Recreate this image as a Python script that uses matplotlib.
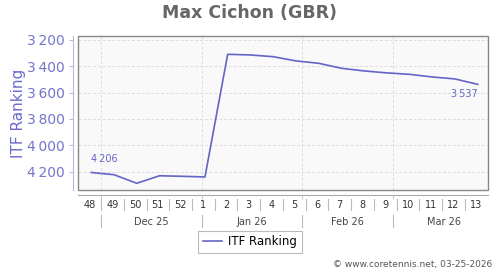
import matplotlib
matplotlib.use('Agg')
import matplotlib.pyplot as plt
import matplotlib.dates as mdates
from matplotlib.patches import Rectangle
from matplotlib.transforms import blended_transform_factory
import datetime as dt

# ---- data ----
weeks = [48, 49, 50, 51, 52, 1, 2, 3, 4, 5, 6, 7, 8, 9, 10, 11, 12, 13]
week_years = [2025] * 5 + [2026] * 13
ranking = [4206, 4223, 4288, 4231, 4235, 4240, 3309, 3314, 3327, 3359,
           3377, 3415, 3435, 3450, 3461, 3481, 3496, 3537]
month_labels = ['Dec 25', 'Jan 26', 'Feb 26', 'Mar 26']
month_starts = [(2025, 12), (2026, 1), (2026, 2), (2026, 3)]
y_ticks = [3200, 3400, 3600, 3800, 4000, 4200]
series_name = 'ITF Ranking'
title = 'Max Cichon (GBR)'
credit = '\u00a9 www.coretennis.net, 03-25-2026'

BLUE = '#6464c8'
TICKBLUE = '#7474cc'

def fmt(v):
    s = f'{v:,}'
    return s.replace(',', '\u2009')

mondays = [mdates.date2num(dt.date.fromisocalendar(y, w, 1)) for y, w in zip(week_years, weeks)]
xs = [m + 4 for m in mondays]
label_x = [m + 3.5 for m in mondays]
x_left = mondays[0]
x_right = mondays[-1] + 7
mstarts = [mdates.date2num(dt.date(y, m, 1)) for y, m in month_starts]
mends = mstarts[1:] + [mdates.date2num(dt.date(2026, 4, 1))]

fig = plt.figure(figsize=(5, 2.7), dpi=100)
ax = fig.add_axes([78.3 / 500, 1 - 190 / 270, (487.5 - 78.3) / 500, 154 / 270])
ax.set_facecolor('#f9f9f9')

ax.plot(xs, ranking, color=BLUE, lw=1.2, label=series_name, zorder=3)
ax.set_xlim(x_left, x_right)
ax.set_ylim(4339, 3170)

ax.set_yticks(y_ticks)
ax.set_yticklabels([fmt(v) for v in y_ticks], fontsize=8)
ax.tick_params(axis='y', direction='out', length=3, color='#b8b8e0', pad=3,
               labelcolor=TICKBLUE)

ax.set_xticks(mstarts)
ax.set_xticklabels([])
ax.tick_params(axis='x', direction='out', length=3, color='#cccccc')

ax.grid(True, color='#dddddd', linestyle=(0, (3, 2)), lw=0.7, zorder=0)
ax.set_axisbelow(True)

for s in ['top', 'right']:
    ax.spines[s].set_visible(False)
ax.spines['left'].set_position(('outward', 3.6))
ax.spines['left'].set_color('#b8b8e0')
ax.spines['bottom'].set_position(('outward', 3.6))
ax.spines['bottom'].set_color('#aaaaaa')

ax.add_patch(Rectangle((0, 0), 1, 1, transform=ax.transAxes, fill=False,
                       edgecolor='#888888', lw=1.0, zorder=4, clip_on=False))

ax.set_ylabel(series_name, color='#6a6acc', fontsize=11)
ax.yaxis.set_label_coords(-0.127, 0.5)

# annotations for first and last points
ax.annotate(fmt(ranking[0]), (xs[0], ranking[0]), xytext=(0, 6), textcoords='offset points',
            ha='left', va='bottom', color=BLUE, fontsize=7)
ax.annotate(fmt(ranking[-1]), (xs[-1], ranking[-1]), xytext=(0, -3), textcoords='offset points',
            ha='right', va='top', color=BLUE, fontsize=7)

trans = blended_transform_factory(ax.transData, ax.transAxes)
for lx, w in zip(label_x, weeks):
    ax.text(lx, -0.0974, str(w), transform=trans, ha='center', va='center',
            fontsize=7, color='#333333')
for m in mondays[1:]:
    ax.plot([m, m], [-0.06, -0.13], transform=trans, color='#bbbbbb', lw=0.8, clip_on=False)
for m in mstarts:
    ax.plot([m, m], [-0.162, -0.238], transform=trans, color='#bbbbbb', lw=0.8, clip_on=False)
for i, lab in enumerate(month_labels):
    a = max(mstarts[i], x_left)
    b = mends[i]
    cx = (a + b) / 2
    ax.text(cx, -0.208, lab, transform=trans, ha='center', va='center',
            fontsize=7, color='#444444')

fig.text(0.5, 1 - 13.5 / 270, title, ha='center', va='center', fontsize=12.5,
         fontweight='bold', color='#666666')

leg = fig.legend(loc='center', bbox_to_anchor=(0.5, 1 - 242 / 270), fontsize=8.5,
                 frameon=True, fancybox=False, edgecolor='#aaaaaa', handlelength=1.6,
                 borderpad=0.4, handletextpad=0.5)
leg.get_frame().set_linewidth(0.8)

fig.text(0.984, 1 - 265 / 270, credit, ha='right', va='center', fontsize=6.5, color='#555555')

fig.savefig('out.png', dpi=100)
